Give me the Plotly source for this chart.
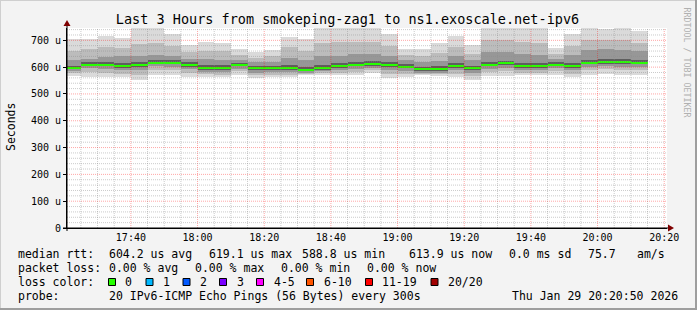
import plotly.graph_objects as go
import pandas as pd

# ---------------- data ----------------
bin_start = pd.date_range("2026-01-29 17:20:00", periods=35, freq="5min")

median = [598, 609, 609, 604, 609, 617, 617, 609, 597, 597,
          609, 597, 597, 597, 590, 597, 604, 609, 612, 608,
          602, 593, 593, 604, 597, 609, 614, 604, 604, 609,
          604, 617, 619, 619, 617]
ping_max = [705, 706, 715, 709, 748, 748, 722, 682, 693, 690,
            666, 656, 664, 714, 705, 746, 746, 746, 745, 724,
            668, 669, 690, 718, 682, 746, 746, 746, 746, 671,
            722, 746, 744, 746, 734]
ping_min = [568, 563, 563, 563, 553, 570, 570, 562, 563, 563,
            570, 559, 563, 563, 570, 570, 570, 570, 578, 559,
            563, 570, 566, 563, 552, 567, 567, 570, 570, 570,
            563, 572, 576, 570, 570]
p90 = [660, 668, 675, 670, 688, 690, 678, 655, 660, 662,
       645, 635, 640, 675, 660, 690, 692, 695, 692, 680,
       645, 640, 652, 675, 650, 700, 700, 695, 690, 650,
       680, 700, 700, 700, 690]
p75 = [625, 632, 638, 640, 640, 645, 640, 630, 630, 628,
       626, 618, 620, 635, 625, 640, 642, 648, 650, 640,
       625, 618, 622, 640, 625, 655, 655, 648, 645, 630,
       645, 665, 668, 665, 660]
p60 = [606, 618, 620, 615, 620, 628, 627, 618, 608, 607,
       617, 605, 606, 608, 600, 608, 614, 620, 622, 618,
       611, 602, 603, 614, 606, 620, 624, 614, 614, 618,
       615, 628, 630, 630, 627]
p40 = [593, 603, 603, 598, 602, 611, 611, 602, 591, 590,
       603, 590, 591, 590, 585, 591, 598, 603, 606, 601,
       596, 587, 587, 598, 590, 603, 607, 598, 598, 603,
       597, 611, 613, 612, 611]
p25 = [586, 595, 594, 588, 590, 603, 602, 592, 582, 582,
       594, 580, 582, 582, 579, 584, 590, 594, 598, 590,
       587, 580, 580, 589, 580, 594, 598, 590, 590, 595,
       588, 602, 605, 602, 602]
p10 = [578, 582, 580, 576, 572, 590, 590, 580, 573, 572,
       584, 570, 572, 572, 575, 578, 580, 582, 588, 575,
       576, 575, 573, 576, 566, 582, 585, 580, 580, 584,
       576, 590, 594, 588, 588]

y_tick_vals = [0, 100, 200, 300, 400, 500, 600, 700]
y_tick_text = ["0", "100 u", "200 u", "300 u", "400 u", "500 u", "600 u", "700 u"]

loss_labels = ["0", "1", "2", "3", "4-5", "6-10", "11-19", "20/20"]
loss_colors = ["#26ff00", "#00b8ff", "#0059ff", "#7a00ff", "#ff00ff",
               "#ff5500", "#ff0000", "#a10000"]

# ---------------- geometry helpers ----------------
W, H = 697, 310
L, R, T, B = 67, 667, 28, 228
FONT = "DejaVu Sans Mono"
X0, X1 = pd.Timestamp("2026-01-29 17:20:50"), pd.Timestamp("2026-01-29 20:20:50")
Y_MAX = 746


def px(p):
    return (p - L) / (R - L)


def py(p):
    return (B - p) / (B - T)


centers = bin_start + pd.Timedelta(seconds=150)
bin_w = 300000  # ms

fig = go.Figure()

bands = [
    (ping_min, ping_max, "#dadada"),
    (p10, p90, "#bcbcbc"),
    (p25, p75, "#979797"),
    (p40, p60, "#5e5e5e"),
]
for lo, hi, col in bands:
    fig.add_trace(go.Bar(
        x=centers, base=lo, y=[h - l for l, h in zip(lo, hi)], width=bin_w,
        marker=dict(color=col, line=dict(width=0)), showlegend=False,
        hoverinfo="skip"))

fig.add_trace(go.Bar(
    x=centers, base=[m - 4 for m in median], y=[8] * len(median), width=bin_w,
    marker=dict(color="#26ff00", line=dict(width=0)), showlegend=False,
    hoverinfo="skip"))

minor_grid = "rgba(140,140,140,0.45)"
major_grid = "rgba(255,0,0,0.35)"

fig.update_layout(
    width=W, height=H,
    margin=dict(l=L, r=W - R, t=T, b=H - B, pad=0),
    paper_bgcolor="#f3f3f3", plot_bgcolor="#ffffff",
    barmode="overlay", bargap=0,
    showlegend=False,
    font=dict(family=FONT, size=10, color="#000000"),
    title=dict(text="Last 3 Hours from smokeping-zag1 to ns1.exoscale.net-ipv6",
               font=dict(family=FONT, size=13.5, color="#000000"),
               x=347.5 / W, xanchor="center", xref="container",
               y=1 - 19 / H, yanchor="middle", yref="container"),
    xaxis=dict(
        type="date", range=[X0, X1],
        tick0="2026-01-29 17:00:00", dtick=1200000, tickformat="%H:%M",
        showgrid=False,
        showline=True, linecolor="#000000", linewidth=1,
        ticks="", zeroline=False, fixedrange=True,
        tickfont=dict(family=FONT, size=10, color="#000000"),
    ),
    yaxis=dict(
        range=[0, Y_MAX], tickmode="array", tickvals=y_tick_vals, ticktext=y_tick_text,
        showgrid=False,
        showline=True, linecolor="#000000", linewidth=1,
        ticks="outside", ticklen=3, tickcolor="#000000", zeroline=False,
        fixedrange=True,
        tickfont=dict(family=FONT, size=10, color="#000000"),
    ),
)

shapes = []
# grid drawn above the smoke, as rrdtool does
t = pd.Timestamp("2026-01-29 17:25:00")
while t <= X1:
    major = (t.minute % 20 == 0)
    shapes.append(dict(type="line", xref="x", yref="paper", layer="above",
                       x0=t, x1=t, y0=0, y1=1,
                       line=dict(color=major_grid if major else minor_grid,
                                 width=1, dash="1px,1px")))
    t += pd.Timedelta(minutes=5)
for v in range(20, Y_MAX, 20):
    major = (v % 100 == 0)
    shapes.append(dict(type="line", xref="paper", yref="y", layer="above",
                       x0=0, x1=1, y0=v, y1=v,
                       line=dict(color=major_grid if major else minor_grid,
                                 width=1, dash="1px,1px")))

# axis extensions and arrow heads
shapes.append(dict(type="line", xref="paper", yref="paper",
                   x0=px(63), x1=px(670), y0=0, y1=0,
                   line=dict(color="#000000", width=1)))
shapes.append(dict(type="line", xref="paper", yref="paper",
                   x0=0, x1=0, y0=py(231), y1=py(24),
                   line=dict(color="#000000", width=1)))
shapes.append(dict(type="path", xref="paper", yref="paper",
                   path=f"M {px(674)} {py(228)} L {px(668)} {py(224.5)} L {px(668)} {py(231.5)} Z",
                   fillcolor="#7f0000", line=dict(width=0)))
shapes.append(dict(type="path", xref="paper", yref="paper",
                   path=f"M {px(67)} {py(20)} L {px(63.5)} {py(26)} L {px(70.5)} {py(26)} Z",
                   fillcolor="#7f0000", line=dict(width=0)))
# frame (3D shade)
shapes.append(dict(type="line", xref="paper", yref="paper",
                   x0=px(0), x1=px(W), y0=py(0.5), y1=py(0.5),
                   line=dict(color="#cfcfcf", width=1)))
shapes.append(dict(type="line", xref="paper", yref="paper",
                   x0=px(0.5), x1=px(0.5), y0=py(0), y1=py(H),
                   line=dict(color="#cfcfcf", width=1)))
shapes.append(dict(type="line", xref="paper", yref="paper",
                   x0=px(0), x1=px(W), y0=py(H - 1), y1=py(H - 1),
                   line=dict(color="#9e9e9e", width=2)))
shapes.append(dict(type="line", xref="paper", yref="paper",
                   x0=px(W - 1), x1=px(W - 1), y0=py(0), y1=py(H),
                   line=dict(color="#9e9e9e", width=2)))

annotations = []


def text(x, y, s, size=11.5, anchor="left", color="#000000", angle=0):
    annotations.append(dict(
        x=px(x), y=py(y), xref="paper", yref="paper", text=s, showarrow=False,
        xanchor=anchor, yanchor="middle", textangle=angle,
        font=dict(family=FONT, size=size, color=color)))


# y axis title
text(11, 127, "Seconds", size=11.5, anchor="center", angle=-90)
# watermark
text(686.5, 62, "RRDTOOL / TOBI OETIKER", size=8.3, anchor="center",
     color="#b0b0b0", angle=90)

row1, row2, row3, row4 = 254, 268, 282, 296
text(16, row1, "median rtt:")
for x, s in [(107.3, "604.2 us avg"), (207.3, "619.1 us max"), (300, "588.8 us min"),
             (406.7, "613.9 us now"), (506.7, "0.0 ms sd"), (586, "75.7"),
             (635, "am/s")]:
    text(x, row1, s)
text(16, row2, "packet loss:")
for x, s in [(107.3, "0.00 % avg"), (193.3, "0.00 % max"), (279.3, "0.00 % min"),
             (365.3, "0.00 % now")]:
    text(x, row2, s)
text(16, row3, "loss color:")
box_x = [108.5, 146, 183, 219.5, 256.5, 306.5, 365.5, 431]
lab_x = [123, 161, 198, 235, 272, 322, 380, 446]
for bx, lx, lab, col in zip(box_x, lab_x, loss_labels, loss_colors):
    shapes.append(dict(type="rect", xref="paper", yref="paper",
                       x0=px(bx), x1=px(bx + 7), y0=py(row3 + 3.5), y1=py(row3 - 3.5),
                       fillcolor=col, line=dict(color="#000000", width=1)))
    text(lx, row3, lab)
text(16, row4, "probe:")
text(107.3, row4, "20 IPv6-ICMP Echo Pings (56 Bytes) every 300s")
text(680, row4, "Thu Jan 29 20:20:50 2026", anchor="right")

fig.update_layout(shapes=shapes, annotations=annotations)

fig.write_html("out.html")
